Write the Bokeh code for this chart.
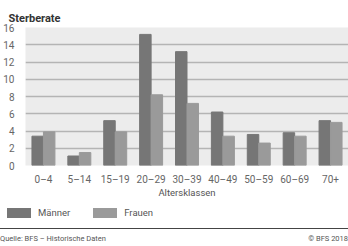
from bokeh.plotting import figure
from bokeh.models import ColumnDataSource, FactorRange, Div, Title
from bokeh.transform import dodge
from bokeh.layouts import column
from bokeh.embed import file_html
from bokeh.resources import INLINE

categories = ["0–4", "5–14", "15–19", "20–29", "30–39", "40–49", "50–59", "60–69", "70+"]
maenner = [3.4, 1.1, 5.2, 15.2, 13.2, 6.2, 3.6, 3.8, 5.2]
frauen = [3.9, 1.5, 3.9, 8.2, 7.2, 3.4, 2.6, 3.4, 5.0]
y_ticks = [0, 2, 4, 6, 8, 10, 12, 14, 16]
series_names = ["Männer", "Frauen"]

FONT = "Roboto"
C_M = "#767676"
C_F = "#9a9a9a"

src = ColumnDataSource(dict(cat=categories, m=maenner, f=frauen))

p = figure(width=348, height=200, x_range=FactorRange(*categories, range_padding=0),
           y_range=(0, 16), output_backend="svg", toolbar_location=None,
           min_border_left=25, min_border_right=0, min_border_top=27, min_border_bottom=33)

title = Title(text="Sterberate", text_font=FONT, text_font_size="11px",
              text_font_style="bold", text_color="#333333", align="left",
              offset=-17, standoff=5)
p.add_layout(title, "above")
spacer = Title(text=" ", text_font=FONT, text_font_size="2px", standoff=3)
p.add_layout(spacer, "above")

p.vbar(x=dodge("cat", -0.16, range=p.x_range), top="m", width=0.32, source=src,
       fill_color=C_M, line_color=C_M)
p.vbar(x=dodge("cat", 0.16, range=p.x_range), top="f", width=0.32, source=src,
       fill_color=C_F, line_color=C_F)

p.background_fill_color = "#ececec"
p.border_fill_color = "white"
p.outline_line_color = None
p.xgrid.grid_line_color = None
p.ygrid.grid_line_color = "#b4b4b4"
p.ygrid.grid_line_width = 1.5
p.ygrid.level = "underlay"

p.yaxis.ticker = y_ticks
p.yaxis.axis_line_color = None
p.yaxis.major_tick_line_color = None
p.yaxis.minor_tick_line_color = None
p.yaxis.major_label_standoff = 5
p.yaxis.major_label_text_font = FONT
p.yaxis.major_label_text_font_size = "10px"
p.yaxis.major_label_text_color = "#666666"

p.xaxis.axis_line_color = None
p.xaxis.major_tick_line_color = None
p.xaxis.minor_tick_line_color = None
p.xaxis.major_label_standoff = 2
p.xaxis.major_label_text_font = FONT
p.xaxis.major_label_text_font_size = "10px"
p.xaxis.major_label_text_color = "#666666"
p.xaxis.axis_label = "Altersklassen"
p.xaxis.axis_label_text_font = FONT
p.xaxis.axis_label_text_font_size = "9.5px"
p.xaxis.axis_label_text_font_style = "normal"
p.xaxis.axis_label_text_color = "#555555"
p.xaxis.axis_label_standoff = -1

swatch = ('<span style="display:inline-block;width:24px;height:10px;'
          'background:{c};margin-left:{ml}px"></span>'
          '<span style="margin-left:7px">{t}</span>')
legend_html = (swatch.format(c=C_M, ml=7, t=series_names[0]) +
               swatch.format(c=C_F, ml=23, t=series_names[1]))

bottom = Div(width=348, height=46, margin=(0, 0, 0, 0),
             text='<div style="font-family:Roboto; color:#555; width:348px">'
                  '<div style="display:flex; align-items:center; height:10px; margin-top:8px; '
                  'font-size:9.5px">' + legend_html + '</div>'
                  '<div style="margin-top:10px; border-top:1.5px solid #444; display:flex; '
                  'justify-content:space-between; padding-top:5px; font-size:7.5px">'
                  '<span>Quelle: BFS – Historische Daten</span><span>© BFS 2018</span></div>'
                  '</div>')

layout = column(p, bottom, spacing=0)
open("out.html", "w").write(file_html(layout, INLINE))
